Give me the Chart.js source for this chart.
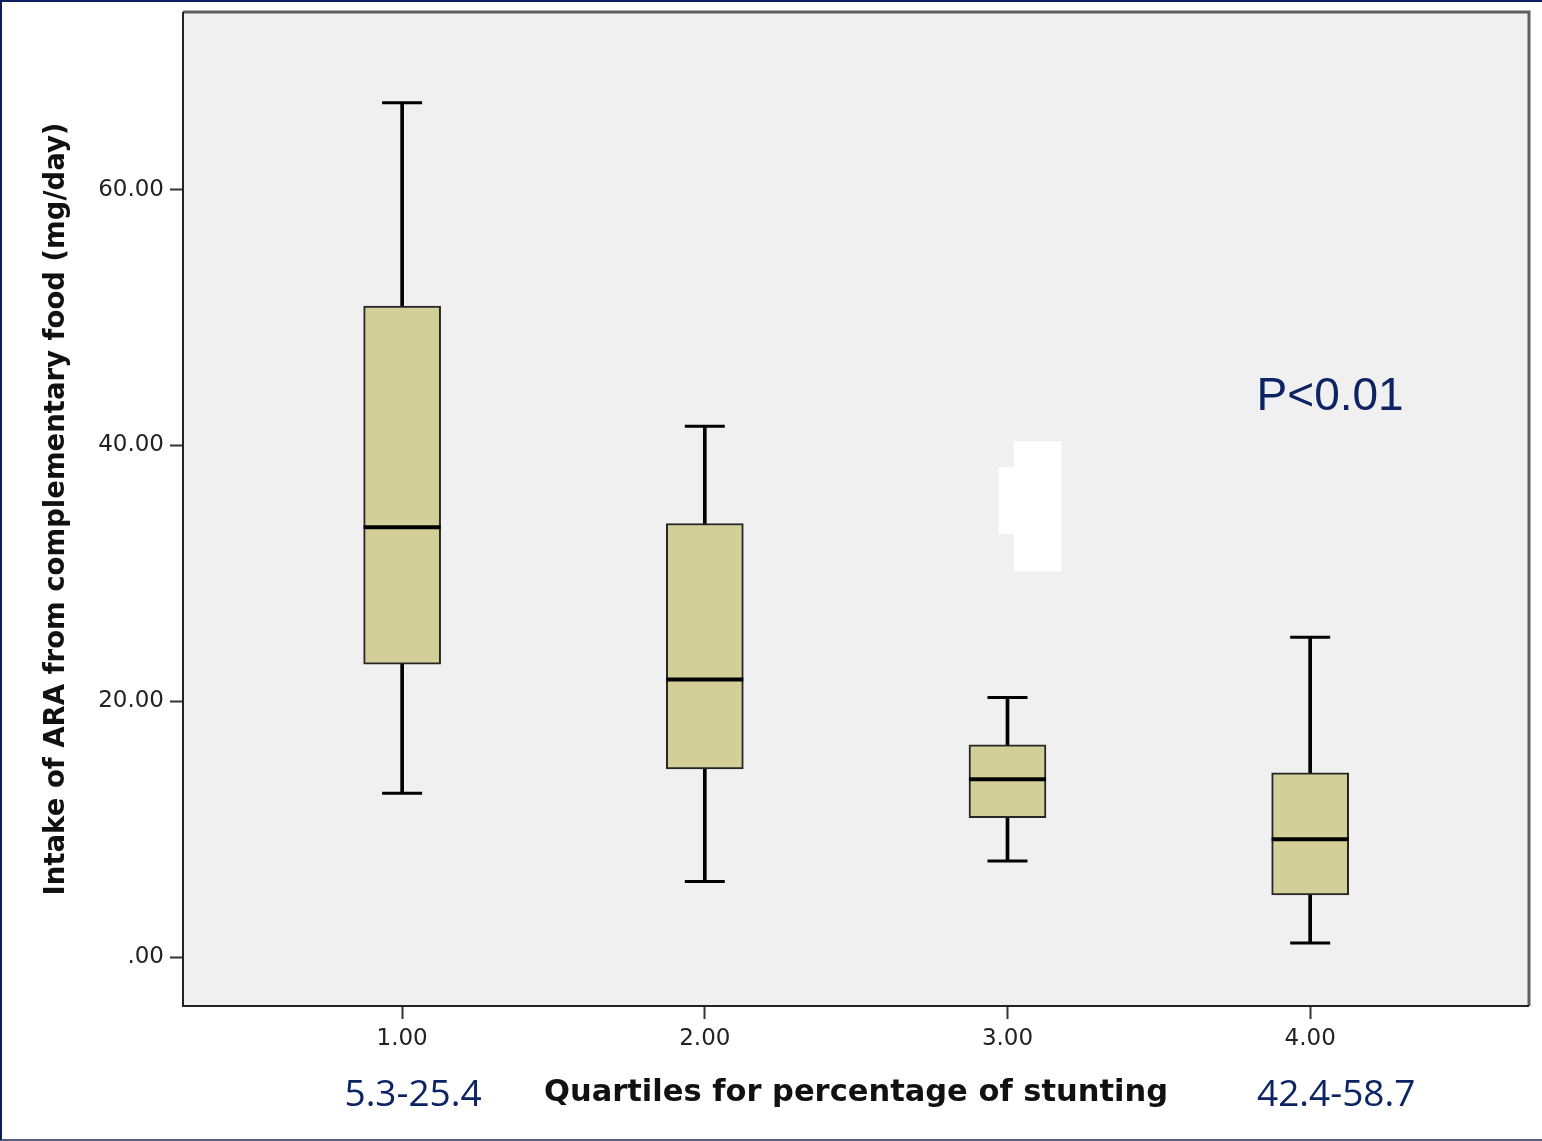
<!DOCTYPE html>
<html>
<head>
<meta charset="utf-8">
<script src="https://cdn.jsdelivr.net/npm/chart.js@4/dist/chart.umd.min.js"></script>
<style>
  html, body { margin: 0; padding: 0; background: #fff; }
  #wrap { position: relative; width: 1542px; height: 1141px; }
  #frame { position: absolute; left: 0; top: 0; width: 1542px; height: 1141px; box-sizing: border-box;
           border-left: 2px solid #0c1f5c; border-top: 2px solid #0c1f5c; border-bottom: 2px solid #56607e; pointer-events: none; }
</style>
</head>
<body>
<div id="wrap">
  <canvas id="grafico"></canvas>
  <div id="frame"></div>
</div>
<script>
// Dados
const quartis = [1, 2, 3, 4];
const minimos = [12.8, 5.9, 7.5, 1.1];
const q1 = [22.9, 14.7, 10.9, 4.85];
const medianas = [33.6, 21.7, 13.9, 9.2];
const q3 = [50.9, 33.9, 16.6, 14.4];
const maximos = [66.8, 41.5, 20.3, 25.0];
const ticksY = [0, 20, 40, 60];
const faixas = ['5.3-25.4', '', '', '42.4-58.7'];

// manchas brancas sobre o gráfico (outliers apagados no original)
const manchaA = [{ x: 3.10, y: [30.2, 40.3] }];
const manchaB = [{ x: 2.997, y: [33.1, 38.3] }];

const corCaixa = '#d3cf98';
const corAzul = '#0c2463';

const fundoPlot = {
  id: 'fundoPlot',
  beforeDraw(chart) {
    const { ctx, chartArea: a } = chart;
    ctx.save();
    ctx.fillStyle = '#f0f0f0';
    ctx.fillRect(a.left, a.top, a.right - a.left, a.bottom - a.top);
    ctx.restore();
  },
  afterDatasetsDraw(chart) {
    const { ctx, chartArea: a } = chart;
    ctx.save();
    ctx.lineWidth = 3;
    ctx.strokeStyle = '#5e5e5e';
    ctx.beginPath();
    ctx.moveTo(a.left, a.top);
    ctx.lineTo(a.right, a.top);
    ctx.lineTo(a.right, a.bottom);
    ctx.stroke();
    ctx.lineWidth = 2;
    ctx.strokeStyle = '#222';
    ctx.beginPath();
    ctx.moveTo(a.left, a.top);
    ctx.lineTo(a.left, a.bottom);
    ctx.lineTo(a.right, a.bottom);
    ctx.stroke();
    ctx.restore();
  }
};

const textosAzuis = {
  id: 'textosAzuis',
  afterDraw(chart) {
    const { ctx, chartArea: a } = chart;
    const x = chart.scales.x, y = chart.scales.y;
    ctx.save();
    ctx.fillStyle = corAzul;
    ctx.textAlign = 'center';
    ctx.textBaseline = 'middle';
    ctx.font = '37px "Open Sans"';
    faixas.forEach((t, i) => {
      if (!t) return;
      const desloc = i === 0 ? 0.036 : 0.086;
      ctx.fillText(t, x.getPixelForValue(quartis[i] + desloc), a.bottom + 89);
    });
    ctx.font = '46px "Liberation Sans"';
    ctx.fillText('P<0.01', x.getPixelForValue(4.066), y.getPixelForValue(43.8));
    ctx.restore();
  }
};

// sem folga automática para os rótulos
function semFolga(s) {
  s.paddingTop = 0; s.paddingBottom = 0; s.paddingLeft = 0; s.paddingRight = 0;
}

const barraBase = { type: 'bar', grouped: false, borderSkipped: false };

new Chart(document.getElementById('grafico'), {
  type: 'bar',
  data: {
    datasets: [
      { label: 'mediana', type: 'scatter', order: 1,
        data: quartis.map((q, i) => ({ x: q, y: medianas[i] })),
        pointStyle: 'line', pointRadius: 38.5, pointHoverRadius: 38.5,
        pointBorderWidth: 4, pointBorderColor: '#000', pointBackgroundColor: '#000' },
      { ...barraBase, label: 'caixa', order: 2,
        data: quartis.map((q, i) => ({ x: q, y: [q1[i], q3[i]] })),
        barThickness: 77, backgroundColor: corCaixa, borderColor: '#262626', borderWidth: 2 },
      { ...barraBase, label: 'haste', order: 3,
        data: quartis.map((q, i) => ({ x: q, y: [minimos[i], maximos[i]] })),
        barThickness: 3, backgroundColor: '#000' },
      { label: 'extremos', type: 'scatter', order: 3,
        data: quartis.flatMap((q, i) => [{ x: q, y: minimos[i] }, { x: q, y: maximos[i] }]),
        pointStyle: 'line', pointRadius: 20, pointHoverRadius: 20,
        pointBorderWidth: 3, pointBorderColor: '#000' },
      { ...barraBase, label: 'mancha', order: 4, data: manchaA, barThickness: 47, backgroundColor: '#fff' },
      { ...barraBase, label: 'mancha2', order: 4, data: manchaB, barThickness: 15, backgroundColor: '#fff' }
    ]
  },
  options: {
    responsive: true,
    maintainAspectRatio: false,
    animation: false,
    layout: { autoPadding: false, padding: { left: 0, top: 12, right: 13, bottom: 0 } },
    plugins: { legend: { display: false }, tooltip: { enabled: false } },
    scales: {
      x: {
        type: 'linear', offset: false, min: 0.276, max: 4.723,
        grid: { offset: false, drawOnChartArea: false, drawTicks: true, tickLength: 13, tickWidth: 2, tickColor: '#333' },
        border: { display: false },
        afterBuildTicks: s => { s.ticks = quartis.map(v => ({ value: v })); },
        afterFit: s => { s.height = 135; semFolga(s); },
        ticks: { color: '#222', font: { family: 'DejaVu Sans', size: 23 }, padding: 6,
                 maxRotation: 0, callback: v => v.toFixed(2) },
        title: { display: true, text: 'Quartiles for percentage of stunting', color: '#111',
                 font: { family: 'DejaVu Sans', size: 30.5, weight: 'bold' }, padding: { top: 0, bottom: 30 } }
      },
      y: {
        min: -3.83, max: 73.9,
        grid: { drawOnChartArea: false, drawTicks: true, tickLength: 13, tickWidth: 2, tickColor: '#333' },
        border: { display: false },
        afterBuildTicks: s => { s.ticks = ticksY.map(v => ({ value: v })); },
        afterFit: s => { s.width = 183; semFolga(s); },
        ticks: { color: '#222', font: { family: 'DejaVu Sans', size: 23 }, padding: 6,
                 callback: v => v === 0 ? '.00' : v.toFixed(2) },
        title: { display: true, text: 'Intake of ARA from complementary food (mg/day)', color: '#111',
                 font: { family: 'DejaVu Sans', size: 27.5, weight: 'bold' }, padding: { top: 40, bottom: 0 } }
      }
    }
  },
  plugins: [fundoPlot, textosAzuis]
});
</script>
</body>
</html>
